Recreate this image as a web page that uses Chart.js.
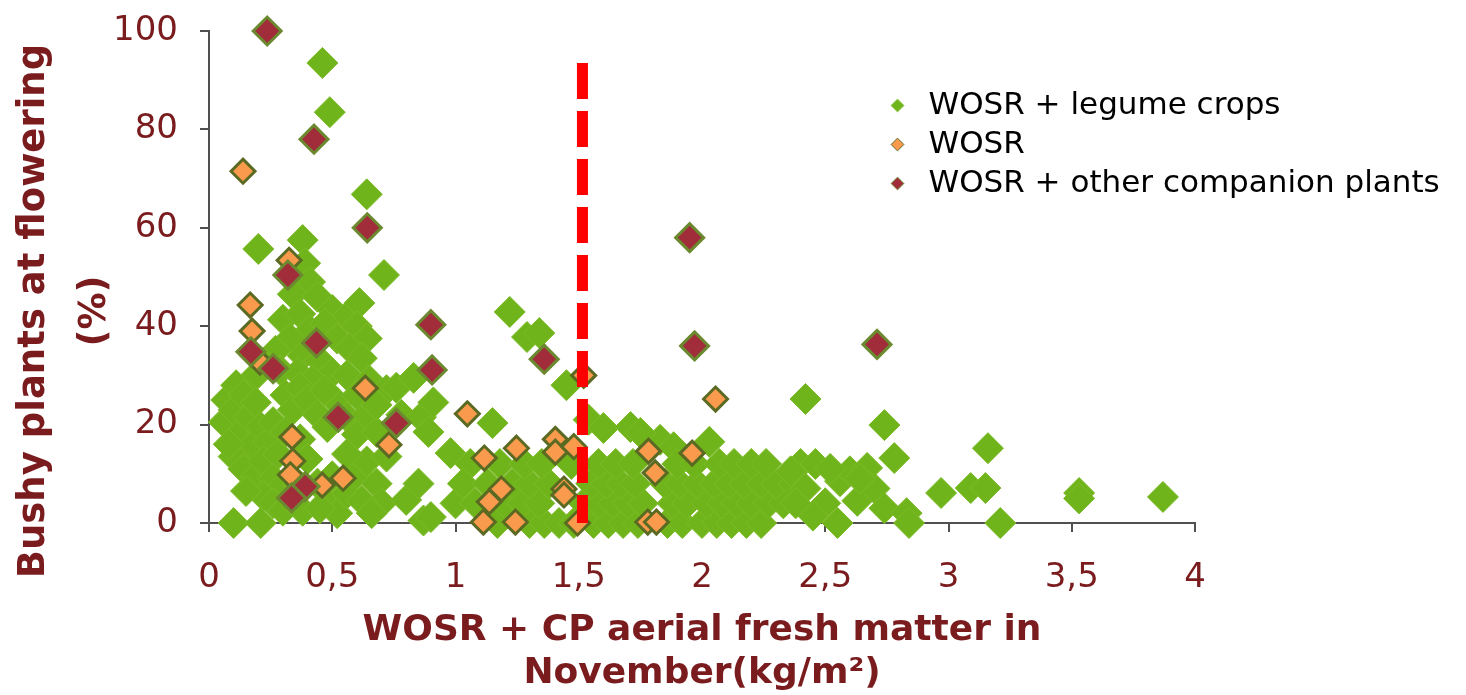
<!DOCTYPE html>
<html>
<head>
<meta charset="utf-8">
<script src="https://cdn.jsdelivr.net/npm/chart.js@4.4.0/dist/chart.umd.min.js"></script>
<style>
html,body{margin:0;padding:0;background:#ffffff;}
#wrap{width:1466px;height:695px;}
</style>
</head>
<body>
<div id="wrap"><canvas id="c" width="1466" height="695"></canvas></div>
<script>
// ---------- data ----------
const seriesNames = ['WOSR + legume crops', 'WOSR', 'WOSR + other companion plants'];
const xTickLabels = ['0', '0,5', '1', '1,5', '2', '2,5', '3', '3,5', '4'];
const yTickLabels = ['0', '20', '40', '60', '80', '100'];
const xTitleLines = ['WOSR + CP aerial fresh matter in', 'November(kg/m\u00B2)'];
const yTitleLines = ['Bushy plants at flowering', '(%)'];

// WOSR + legume crops  [fresh matter kg/m², bushy %]
const legumePoints = [
  [0.46,93.5],[0.49,83.5],[0.64,66.8],[0.2,55.7],[0.38,57.5],[0.39,52.8],[0.71,50.4],[0.61,44.7],
  [0.41,49],[0.34,46.5],[0.44,46],[0.5,43.3],[0.55,41.5],[0.6,40],[0.64,37.5],[0.3,41.3],[0.37,42.5],
  [0.41,39.2],[0.47,40.5],[0.52,37.5],[0.57,35.5],[0.62,33.5],[0.33,37.5],[0.38,34],[0.45,33],[0.5,30.5],
  [0.56,30],[0.65,29],[0.27,35],[0.22,32.5],[0.18,29.5],[0.29,31],[0.72,27],[0.76,27.5],[0.83,29.5],
  [0.36,30.5],[0.42,29],
  [0.07,25],[0.06,20.5],[0.1,23],[0.11,28],[0.14,26],[0.12,18],[0.16,21.5],[0.17,15.5],[0.19,24.5],
  [0.21,19.5],[0.24,16.5],[0.1,13.5],[0.14,11],[0.19,9.5],[0.22,12.5],[0.26,20.5],[0.28,14],[0.31,18.5],
  [0.31,26],[0.34,23],[0.26,9],[0.3,7.5],[0.22,5.5],[0.26,4],[0.3,2.5],[0.15,6.5],[0.1,0],[0.21,0],[0.08,16],
  [0.37,27.5],[0.4,25],[0.44,22],[0.48,19.5],[0.52,24.5],[0.56,21.5],[0.6,18],[0.64,22],[0.68,18.5],
  [0.37,17],[0.4,13],[0.44,8],[0.48,4.5],[0.52,2],[0.56,6],[0.6,10],[0.64,12.5],[0.68,8],[0.72,13.5],
  [0.7,4],[0.36,8],[0.38,2.5],[0.56,14],[0.62,4.5],[0.66,2],[0.5,9.5],[0.47,27],[0.6,26],[0.68,24],[0.45,3],
  [0.78,22],[0.86,21.5],[0.89,18.5],[0.98,14.2],[0.8,4.7],[0.87,0.5],[0.91,24.5],[1.0,4],[0.9,1.2],[0.85,8],
  [1.22,42.9],[1.29,37.8],[1.34,38.6],[1.45,28],[1.15,20.3],[1.54,21],[1.6,19.3],[1.71,19.5],[1.83,16.9],
  [1.75,18.3],[1.885,15.4],[2.03,16.5],[2.42,25.2],[2.74,19.9],[1.06,12],[1.03,8],
  [1.17,0],[1.3,0],[1.36,0],[1.42,0],[1.48,0],[1.56,0],[1.62,0],[1.68,0],[1.74,0],[1.86,0],[1.92,0],
  [2.0,0],[2.06,0],[2.12,0],[2.18,0],[2.24,0],
  [1.08,4],[1.2,4],[1.27,4],[1.34,4],[1.52,4],[1.58,4],[1.64,4],[1.7,4],[1.76,4],[1.88,4],[1.94,4],
  [2.02,4],[2.08,4],[2.14,4],[2.2,4],[2.27,4],[2.33,4],
  [1.13,8],[1.23,8],[1.3,8],[1.38,8],[1.55,8],[1.61,8],[1.67,8],[1.73,8],[1.85,8],[1.91,8],[1.98,8],
  [2.05,8],[2.11,8],[2.17,8],[2.24,8],[2.3,8],[2.37,8],
  [1.18,12],[1.28,12],[1.35,12],[1.47,12],[1.58,12],[1.65,12],[1.72,12],[1.9,12],[1.97,12],[2.07,12],
  [2.13,12],[2.2,12],[2.26,12],[2.4,12],
  [2.36,10.5],[2.42,7],[2.46,12],[2.5,4],[2.55,0],[2.56,8.5],[2.6,10.5],[2.63,4.5],[2.67,11.2],[2.7,7],
  [2.74,3],[2.78,13.2],[2.83,2],[2.84,0],[2.45,1.5],[2.38,4],[2.52,11],[2.64,9],
  [2.97,6.1],[3.09,7.1],[3.15,7.1],[3.16,15.2],[3.21,0],[3.53,6.1],[3.53,5],[3.87,5.3]
];

// WOSR alone
const wosrPoints = [
  [0.138,71.5],[0.325,53.4],[0.167,44.3],[0.175,39],[0.207,32.7],[0.634,27.4],[0.73,15.9],[0.337,17.5],
  [0.34,12.6],[0.33,9.8],[0.459,7.7],[0.544,9.1],[1.52,30],[1.048,22.2],[1.117,13.2],[1.247,15.2],
  [1.405,17],[1.405,14.4],[1.48,15.5],[1.783,14.6],[1.96,14.2],[1.81,10.2],[2.055,25.2],[1.186,6.9],
  [1.137,4.3],[1.44,6.9],[1.44,5.7],[1.113,0.2],[1.243,0.2],[1.495,0],[1.78,0.2],[1.815,0.2]
];

// WOSR + other companion plants
const otherCpPoints = [
  [0.236,100],[0.426,78],[0.642,60],[0.32,50.4],[0.436,36.6],[0.17,34.8],[0.26,31.4],[0.9,40.3],
  [0.905,31.1],[0.524,21.5],[0.76,20.3],[0.39,7.4],[0.335,5.1],[1.36,33.3],[1.95,58],[1.97,36],[2.71,36.3]
];

// threshold (dashed red line)
const thresholdX = 1.515;
const thresholdYRange = [93.5, 0];

// ---------- styles ----------
const maroon = '#7a1c1e';
const axisGrey = '#505050';
const toXY = arr => arr.map(p => ({x: p[0], y: p[1]}));

const yTitlePlugin = {
  id: 'yTitlePlugin',
  afterDraw(chart) {
    const ctx = chart.ctx;
    ctx.save();
    ctx.font = 'bold 37px "DejaVu Sans"';
    ctx.fillStyle = maroon;
    ctx.textAlign = 'center';
    ctx.textBaseline = 'middle';
    ctx.translate(34, 311);
    ctx.rotate(-Math.PI / 2);
    ctx.fillText(yTitleLines[0], 0, 0);
    ctx.fillText(yTitleLines[1], 0, 61);
    ctx.restore();
  }
};

const legendPlacer = {
  id: 'legendPlacer',
  afterLayout(chart) {
    const l = chart.legend;
    if (!l) return;
    l.left = 874; l.top = 82; l.width = 592; l.height = 160;
    l.right = l.left + l.width; l.bottom = l.top + l.height;
  }
};

new Chart(document.getElementById('c'), {
  type: 'scatter',
  data: {
    datasets: [
      {
        label: seriesNames[0],
        data: toXY(legumePoints),
        pointStyle: 'rectRot',
        pointRadius: 15.5,
        pointHoverRadius: 15.5,
        backgroundColor: '#70b41b',
        borderColor: '#7cbb2a',
        borderWidth: 1,
        order: 3,
        clip: false
      },
      {
        label: seriesNames[1],
        data: toXY(wosrPoints),
        pointStyle: 'rectRot',
        pointRadius: 12,
        pointHoverRadius: 12,
        backgroundColor: '#f99a4c',
        borderColor: '#5b6a22',
        borderWidth: 3,
        order: 2,
        clip: false
      },
      {
        label: seriesNames[2],
        data: toXY(otherCpPoints),
        pointStyle: 'rectRot',
        pointRadius: 14,
        pointHoverRadius: 14,
        backgroundColor: '#a02d39',
        borderColor: '#6b8a30',
        borderWidth: 3,
        order: 1,
        clip: false
      },
      {
        label: 'threshold',
        data: thresholdYRange.map(v => ({x: thresholdX, y: v})),
        showLine: true,
        borderColor: '#ff0000',
        borderWidth: 11,
        borderDash: [36, 12],
        borderCapStyle: 'butt',
        pointRadius: 0,
        pointHoverRadius: 0,
        order: 0,
        clip: false
      }
    ]
  },
  options: {
    responsive: false,
    devicePixelRatio: 1,
    animation: false,
    events: [],
    layout: { padding: { left: 0, top: 31, right: 271, bottom: 0 } },
    plugins: {
      tooltip: { enabled: false },
      legend: {
        display: true,
        position: 'chartArea',
        align: 'start',
        labels: {
          usePointStyle: true,
          boxWidth: 31,
          boxHeight: 9,
          padding: 8,
          color: '#000000',
          font: { family: '"DejaVu Sans"', size: 31 },
          filter: item => item.datasetIndex !== 3,
          sort: (a, b) => a.datasetIndex - b.datasetIndex,
          generateLabels: chart => {
            const items = Chart.defaults.plugins.legend.labels.generateLabels(chart);
            items.forEach(it => { it.lineWidth = 1; });
            return items;
          }
        }
      }
    },
    scales: {
      x: {
        type: 'linear',
        min: 0, max: 4,
        afterFit: s => { s.height = 172; },
        border: { display: true, color: axisGrey, width: 2 },
        grid: { drawOnChartArea: false, drawTicks: true, tickLength: 9, color: axisGrey, lineWidth: 2 },
        ticks: {
          stepSize: 0.5,
          autoSkip: false,
          maxRotation: 0,
          padding: 26,
          color: maroon,
          font: { family: '"DejaVu Sans"', size: 34 },
          callback: (v, i) => xTickLabels[i]
        },
        title: {
          display: true,
          text: xTitleLines,
          color: maroon,
          font: { family: '"DejaVu Sans"', size: 36, weight: 'bold', lineHeight: 1.2 },
          padding: { top: 0, bottom: 0 }
        }
      },
      y: {
        type: 'linear',
        min: 0, max: 100,
        afterFit: s => { s.width = 209; },
        border: { display: true, color: axisGrey, width: 2 },
        grid: { drawOnChartArea: false, drawTicks: true, tickLength: 9, color: axisGrey, lineWidth: 2 },
        ticks: {
          stepSize: 20,
          padding: 22,
          color: maroon,
          font: { family: '"DejaVu Sans"', size: 34, lineHeight: 0.5 },
          callback: (v, i) => yTickLabels[i]
        }
      }
    }
  },
  plugins: [legendPlacer, yTitlePlugin]
});
</script>
</body>
</html>
